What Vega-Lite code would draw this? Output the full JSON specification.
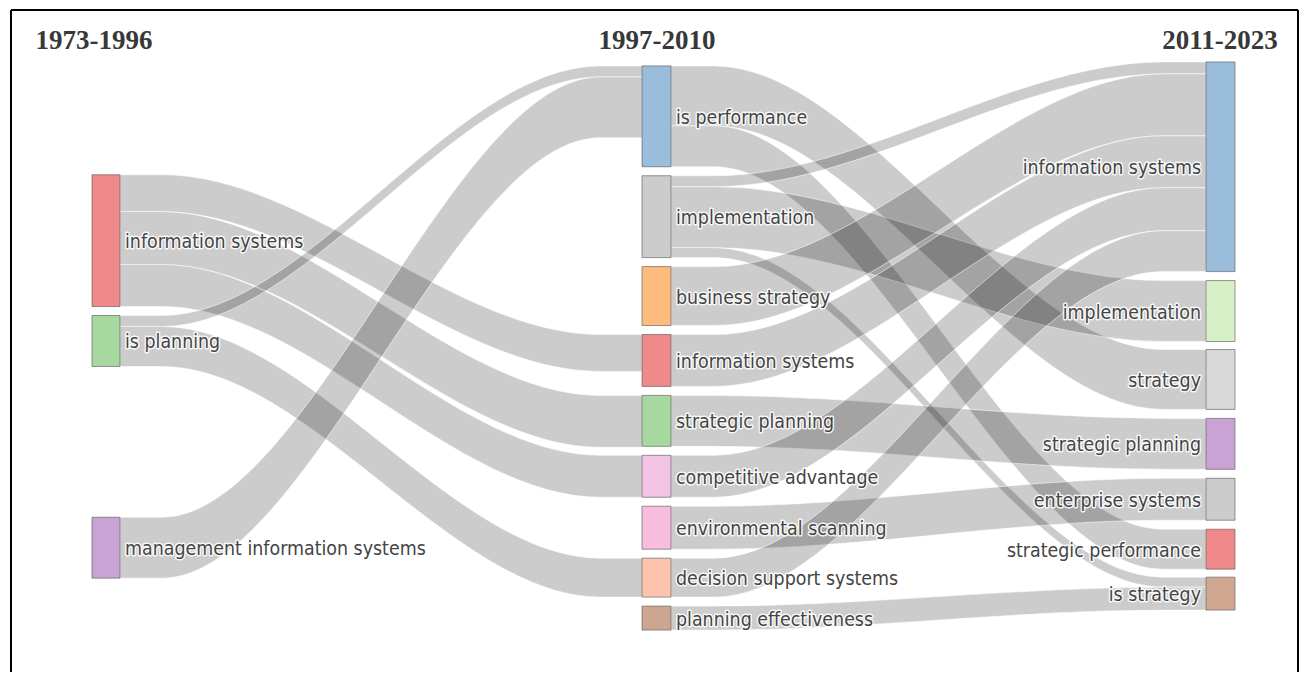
{
  "$schema": "https://vega.github.io/schema/vega-lite/v6.json",
  "width": 1304,
  "height": 673,
  "padding": 0,
  "autosize": {"type": "fit", "contains": "padding"},
  "background": "white",
  "config": {"view": {"stroke": null}},
  "datasets": {
    "nodes": [
      {"id": "p1_is", "label": "information systems", "stage": 0, "x0": 92, "x1": 120, "y0": 175, "y1": 307},
      {"id": "p1_isplan", "label": "is planning", "stage": 0, "x0": 92, "x1": 120, "y0": 316, "y1": 367},
      {"id": "p1_mis", "label": "management information systems", "stage": 0, "x0": 92, "x1": 120, "y0": 518, "y1": 579},
      {"id": "p2_isperf", "label": "is performance", "stage": 1, "x0": 642, "x1": 671, "y0": 66, "y1": 167},
      {"id": "p2_impl", "label": "implementation", "stage": 1, "x0": 642, "x1": 671, "y0": 176, "y1": 258},
      {"id": "p2_bs", "label": "business strategy", "stage": 1, "x0": 642, "x1": 671, "y0": 267, "y1": 326},
      {"id": "p2_is", "label": "information systems", "stage": 1, "x0": 642, "x1": 671, "y0": 335, "y1": 387},
      {"id": "p2_sp", "label": "strategic planning", "stage": 1, "x0": 642, "x1": 671, "y0": 396, "y1": 447},
      {"id": "p2_ca", "label": "competitive advantage", "stage": 1, "x0": 642, "x1": 671, "y0": 456, "y1": 498},
      {"id": "p2_es", "label": "environmental scanning", "stage": 1, "x0": 642, "x1": 671, "y0": 507, "y1": 550},
      {"id": "p2_dss", "label": "decision support systems", "stage": 1, "x0": 642, "x1": 671, "y0": 559, "y1": 598},
      {"id": "p2_pe", "label": "planning effectiveness", "stage": 1, "x0": 642, "x1": 671, "y0": 607, "y1": 631},
      {"id": "p3_is", "label": "information systems", "stage": 2, "x0": 1206, "x1": 1235, "y0": 62, "y1": 272},
      {"id": "p3_impl", "label": "implementation", "stage": 2, "x0": 1206, "x1": 1235, "y0": 281, "y1": 342},
      {"id": "p3_strat", "label": "strategy", "stage": 2, "x0": 1206, "x1": 1235, "y0": 350, "y1": 410},
      {"id": "p3_sp", "label": "strategic planning", "stage": 2, "x0": 1206, "x1": 1235, "y0": 419, "y1": 470},
      {"id": "p3_ent", "label": "enterprise systems", "stage": 2, "x0": 1206, "x1": 1235, "y0": 479, "y1": 521},
      {"id": "p3_sperf", "label": "strategic performance", "stage": 2, "x0": 1206, "x1": 1235, "y0": 530, "y1": 570},
      {"id": "p3_isstrat", "label": "is strategy", "stage": 2, "x0": 1206, "x1": 1235, "y0": 578, "y1": 611}
    ],
    "links": [
      {"link": "L1", "x": 120, "y0": 175, "y1": 212}, {"link": "L1", "x": 162, "y0": 175, "y1": 212}, {"link": "L1", "x": 600, "y0": 335, "y1": 372}, {"link": "L1", "x": 642, "y0": 335, "y1": 372},
      {"link": "L2", "x": 120, "y0": 212, "y1": 265}, {"link": "L2", "x": 162, "y0": 212, "y1": 265}, {"link": "L2", "x": 600, "y0": 396, "y1": 448}, {"link": "L2", "x": 642, "y0": 396, "y1": 448},
      {"link": "L3", "x": 120, "y0": 265, "y1": 307}, {"link": "L3", "x": 162, "y0": 265, "y1": 307}, {"link": "L3", "x": 600, "y0": 456, "y1": 498}, {"link": "L3", "x": 642, "y0": 456, "y1": 498},
      {"link": "L4", "x": 120, "y0": 316, "y1": 327}, {"link": "L4", "x": 162, "y0": 316, "y1": 327}, {"link": "L4", "x": 600, "y0": 66, "y1": 77}, {"link": "L4", "x": 642, "y0": 66, "y1": 77},
      {"link": "L5", "x": 120, "y0": 327, "y1": 367}, {"link": "L5", "x": 162, "y0": 327, "y1": 367}, {"link": "L5", "x": 600, "y0": 559, "y1": 598}, {"link": "L5", "x": 642, "y0": 559, "y1": 598},
      {"link": "L6", "x": 120, "y0": 518, "y1": 579}, {"link": "L6", "x": 162, "y0": 518, "y1": 579}, {"link": "L6", "x": 600, "y0": 77, "y1": 138}, {"link": "L6", "x": 642, "y0": 77, "y1": 138},
      {"link": "M1", "x": 671, "y0": 66, "y1": 126}, {"link": "M1", "x": 714, "y0": 66, "y1": 126}, {"link": "M1", "x": 1163, "y0": 350, "y1": 410}, {"link": "M1", "x": 1206, "y0": 350, "y1": 410},
      {"link": "M2", "x": 671, "y0": 126, "y1": 167}, {"link": "M2", "x": 714, "y0": 126, "y1": 167}, {"link": "M2", "x": 1163, "y0": 530, "y1": 570}, {"link": "M2", "x": 1206, "y0": 530, "y1": 570},
      {"link": "M3", "x": 671, "y0": 176, "y1": 187}, {"link": "M3", "x": 714, "y0": 176, "y1": 187}, {"link": "M3", "x": 1163, "y0": 62, "y1": 74}, {"link": "M3", "x": 1206, "y0": 62, "y1": 74},
      {"link": "M4", "x": 671, "y0": 187, "y1": 248}, {"link": "M4", "x": 714, "y0": 187, "y1": 248}, {"link": "M4", "x": 1163, "y0": 281, "y1": 342}, {"link": "M4", "x": 1206, "y0": 281, "y1": 342},
      {"link": "M5", "x": 671, "y0": 248, "y1": 258}, {"link": "M5", "x": 714, "y0": 248, "y1": 258}, {"link": "M5", "x": 1163, "y0": 578, "y1": 588}, {"link": "M5", "x": 1206, "y0": 578, "y1": 588},
      {"link": "M6", "x": 671, "y0": 267, "y1": 326}, {"link": "M6", "x": 714, "y0": 267, "y1": 326}, {"link": "M6", "x": 1163, "y0": 74, "y1": 136}, {"link": "M6", "x": 1206, "y0": 74, "y1": 136},
      {"link": "M7", "x": 671, "y0": 335, "y1": 387}, {"link": "M7", "x": 714, "y0": 335, "y1": 387}, {"link": "M7", "x": 1163, "y0": 136, "y1": 188}, {"link": "M7", "x": 1206, "y0": 136, "y1": 188},
      {"link": "M8", "x": 671, "y0": 396, "y1": 447}, {"link": "M8", "x": 714, "y0": 396, "y1": 447}, {"link": "M8", "x": 1163, "y0": 419, "y1": 470}, {"link": "M8", "x": 1206, "y0": 419, "y1": 470},
      {"link": "M9", "x": 671, "y0": 456, "y1": 498}, {"link": "M9", "x": 714, "y0": 456, "y1": 498}, {"link": "M9", "x": 1163, "y0": 188, "y1": 231}, {"link": "M9", "x": 1206, "y0": 188, "y1": 231},
      {"link": "M10", "x": 671, "y0": 507, "y1": 550}, {"link": "M10", "x": 714, "y0": 507, "y1": 550}, {"link": "M10", "x": 1163, "y0": 479, "y1": 521}, {"link": "M10", "x": 1206, "y0": 479, "y1": 521},
      {"link": "M11", "x": 671, "y0": 559, "y1": 598}, {"link": "M11", "x": 714, "y0": 559, "y1": 598}, {"link": "M11", "x": 1163, "y0": 231, "y1": 272}, {"link": "M11", "x": 1206, "y0": 231, "y1": 272},
      {"link": "M12", "x": 671, "y0": 607, "y1": 631}, {"link": "M12", "x": 714, "y0": 607, "y1": 631}, {"link": "M12", "x": 1163, "y0": 588, "y1": 611}, {"link": "M12", "x": 1206, "y0": 588, "y1": 611}
    ],
    "titles": [
      {"text": "1973-1996", "x": 94, "y": 41},
      {"text": "1997-2010", "x": 657, "y": 41},
      {"text": "2011-2023", "x": 1220, "y": 41}
    ]
  },
  "layer": [
    {
      "data": {"name": "links"},
      "mark": {"type": "area", "interpolate": "monotone", "fill": "black", "fillOpacity": 0.2, "stroke": "white", "strokeWidth": 0.6, "strokeOpacity": 0.9},
      "encoding": {
        "x": {"field": "x", "type": "quantitative", "scale": {"domain": [0, 1304], "nice": false, "zero": false}, "axis": null},
        "y": {"field": "y0", "type": "quantitative", "stack": null, "scale": {"domain": [0, 673], "reverse": true, "nice": false, "zero": false}, "axis": null},
        "y2": {"field": "y1"},
        "detail": {"field": "link", "type": "nominal"}
      }
    },
    {
      "data": {"name": "nodes"},
      "mark": {"type": "rect", "stroke": "#555555", "strokeOpacity": 0.6, "strokeWidth": 1},
      "encoding": {
        "x": {"field": "x0", "type": "quantitative", "axis": null},
        "x2": {"field": "x1"},
        "y": {"field": "y0", "type": "quantitative", "axis": null},
        "y2": {"field": "y1"},
        "color": {
          "field": "id", "type": "nominal", "legend": null,
          "scale": {
            "domain": ["p1_is", "p1_isplan", "p1_mis", "p2_isperf", "p2_impl", "p2_bs", "p2_is", "p2_sp", "p2_ca", "p2_es", "p2_dss", "p2_pe", "p3_is", "p3_impl", "p3_strat", "p3_sp", "p3_ent", "p3_sperf", "p3_isstrat"],
            "range": ["#f08a8a", "#a6d8a0", "#c9a3d3", "#9abddc", "#cccccc", "#fdbb7d", "#f08a8a", "#a6d8a0", "#f2c3e2", "#f9bde0", "#fcc4ac", "#cda691", "#9abddc", "#d8f0c8", "#d9d9d9", "#c9a3d3", "#cccccc", "#f08a8a", "#d0a790"]
          }
        }
      }
    },
    {
      "data": {"name": "nodes"},
      "transform": [{"filter": "datum.stage < 2"}, {"calculate": "(datum.y0 + datum.y1) / 2", "as": "ym"}],
      "mark": {"type": "text", "align": "left", "baseline": "middle", "dx": 5, "dy": 1.5, "font": "DejaVu Sans Condensed, Liberation Sans Narrow, DejaVu Sans", "fontSize": 19.4, "fill": "white", "stroke": "white", "strokeWidth": 3, "strokeOpacity": 0.85, "strokeJoin": "round"},
      "encoding": {
        "x": {"field": "x1", "type": "quantitative", "axis": null},
        "y": {"field": "ym", "type": "quantitative", "axis": null},
        "text": {"field": "label"}
      }
    },
    {
      "data": {"name": "nodes"},
      "transform": [{"filter": "datum.stage < 2"}, {"calculate": "(datum.y0 + datum.y1) / 2", "as": "ym"}],
      "mark": {"type": "text", "align": "left", "baseline": "middle", "dx": 5, "dy": 1.5, "font": "DejaVu Sans Condensed, Liberation Sans Narrow, DejaVu Sans", "fontSize": 19.4, "fill": "#444444"},
      "encoding": {
        "x": {"field": "x1", "type": "quantitative", "axis": null},
        "y": {"field": "ym", "type": "quantitative", "axis": null},
        "text": {"field": "label"}
      }
    },
    {
      "data": {"name": "nodes"},
      "transform": [{"filter": "datum.stage == 2"}, {"calculate": "(datum.y0 + datum.y1) / 2", "as": "ym"}],
      "mark": {"type": "text", "align": "right", "baseline": "middle", "dx": -5, "dy": 1.5, "font": "DejaVu Sans Condensed, Liberation Sans Narrow, DejaVu Sans", "fontSize": 19.4, "fill": "white", "stroke": "white", "strokeWidth": 3, "strokeOpacity": 0.85, "strokeJoin": "round"},
      "encoding": {
        "x": {"field": "x0", "type": "quantitative", "axis": null},
        "y": {"field": "ym", "type": "quantitative", "axis": null},
        "text": {"field": "label"}
      }
    },
    {
      "data": {"name": "nodes"},
      "transform": [{"filter": "datum.stage == 2"}, {"calculate": "(datum.y0 + datum.y1) / 2", "as": "ym"}],
      "mark": {"type": "text", "align": "right", "baseline": "middle", "dx": -5, "dy": 1.5, "font": "DejaVu Sans Condensed, Liberation Sans Narrow, DejaVu Sans", "fontSize": 19.4, "fill": "#444444"},
      "encoding": {
        "x": {"field": "x0", "type": "quantitative", "axis": null},
        "y": {"field": "ym", "type": "quantitative", "axis": null},
        "text": {"field": "label"}
      }
    },
    {
      "data": {"name": "titles"},
      "mark": {"type": "text", "align": "center", "baseline": "middle", "font": "Liberation Serif", "fontSize": 27, "fontWeight": "bold", "fill": "#383838"},
      "encoding": {
        "x": {"field": "x", "type": "quantitative", "axis": null},
        "y": {"field": "y", "type": "quantitative", "axis": null},
        "text": {"field": "text"}
      }
    },
    {
      "data": {"values": [{}]},
      "mark": {"type": "rule", "color": "black", "strokeWidth": 2},
      "encoding": {"x": {"datum": 11, "type": "quantitative"}, "y": {"datum": 10, "type": "quantitative"}, "y2": {"datum": 673}}
    },
    {
      "data": {"values": [{}]},
      "mark": {"type": "rule", "color": "black", "strokeWidth": 2},
      "encoding": {"x": {"datum": 1298, "type": "quantitative"}, "y": {"datum": 10, "type": "quantitative"}, "y2": {"datum": 673}}
    },
    {
      "data": {"values": [{}]},
      "mark": {"type": "rule", "color": "black", "strokeWidth": 2},
      "encoding": {"x": {"datum": 11, "type": "quantitative"}, "x2": {"datum": 1298}, "y": {"datum": 10, "type": "quantitative"}}
    }
  ]
}
